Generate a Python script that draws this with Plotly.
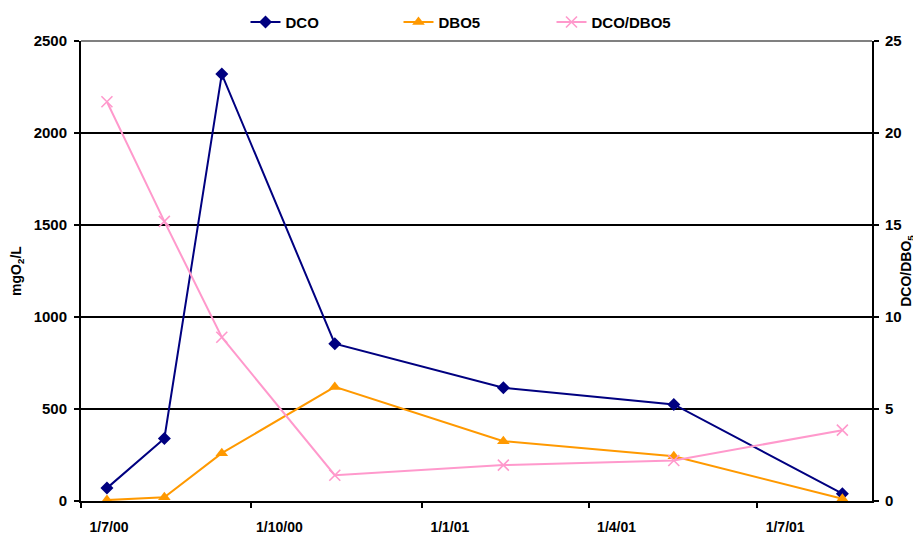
import plotly.graph_objects as go

# sampling dates
dates = ["2000-07-15", "2000-08-15", "2000-09-15", "2000-11-15",
         "2001-02-14", "2001-05-17", "2001-08-16"]

dco = [70, 340, 2320, 855, 615, 525, 40]        # mgO2/L
dbo5 = [5, 20, 260, 620, 325, 243, 12]          # mgO2/L
ratio = [21.7, 15.2, 8.9, 1.4, 1.95, 2.2, 3.85]  # DCO/DBO5

navy = "#000080"
orange = "#FF9900"
pink = "#FF99CC"
font = "Liberation Sans"

fig = go.Figure()

fig.add_trace(go.Scatter(
    x=dates, y=dco, name="<b>DCO</b>", mode="lines+markers",
    line=dict(color=navy, width=2),
    marker=dict(symbol="diamond", size=10, color=navy),
))
fig.add_trace(go.Scatter(
    x=dates, y=dbo5, name="<b>DBO5</b>", mode="lines+markers",
    line=dict(color=orange, width=2),
    marker=dict(symbol="triangle-up", size=11, color=orange),
))
fig.add_trace(go.Scatter(
    x=dates, y=ratio, name="<b>DCO/DBO5</b>", mode="lines+markers",
    yaxis="y2",
    line=dict(color=pink, width=2),
    marker=dict(symbol="x-thin", size=11, color=pink,
                line=dict(color=pink, width=1.6)),
))

# the page body has an 8px margin, so the figure is sized 8px smaller
fig.update_layout(
    width=913, height=526,
    margin=dict(l=73, r=49, t=33, b=33, autoexpand=False),
    paper_bgcolor="white", plot_bgcolor="white",
    font=dict(family=font, size=15, color="black"),
    showlegend=True,
    legend=dict(
        orientation="h", xref="container", yref="container",
        x=0.5115, y=0.973, xanchor="center", yanchor="middle",
        entrywidth=108, font=dict(size=15, family=font),
        bgcolor="rgba(0,0,0,0)",
    ),
    xaxis=dict(
        type="date",
        range=["2000-07-01", "2001-09-01"],
        tick0="2000-07-01", dtick="M3",
        tickformat="%-d/%-m/%y",
        ticks="outside", ticklen=5, tickcolor="black", tickwidth=1.5,
        ticklabelshift=28, ticklabelstandoff=7,
        showline=True, linecolor="black", linewidth=2,
        showgrid=False, zeroline=False, automargin=False,
        tickfont=dict(size=14, family=font, weight="bold"),
    ),
    yaxis=dict(
        range=[0, 2500], dtick=500,
        ticks="outside", ticklen=5, tickcolor="black", tickwidth=1.5,
        ticklabelstandoff=4,
        showline=True, linecolor="black", linewidth=2,
        showgrid=True, gridcolor="black", gridwidth=1.5,
        zeroline=False, automargin=False,
        tickfont=dict(size=15, family=font, weight="bold"),
        title=dict(text="<b>mgO<sub>2</sub>/L</b>", standoff=12,
                   font=dict(size=14, family=font)),
    ),
    yaxis2=dict(
        overlaying="y", side="right",
        range=[0, 25], dtick=5,
        ticks="outside", ticklen=5, tickcolor="black", tickwidth=1.5,
        ticklabelstandoff=3,
        showline=True, linecolor="black", linewidth=2,
        showgrid=False, zeroline=False, automargin=False,
        tickfont=dict(size=15, family=font, weight="bold"),
        title=dict(text="<b>DCO/DBO<sub>5</sub></b>", standoff=1,
                   font=dict(size=14, family=font)),
    ),
    shapes=[dict(type="line", xref="paper", yref="paper",
                 x0=0, x1=1, y0=1, y1=1,
                 line=dict(color="#808080", width=2))],
)

fig.write_html("out.html")
